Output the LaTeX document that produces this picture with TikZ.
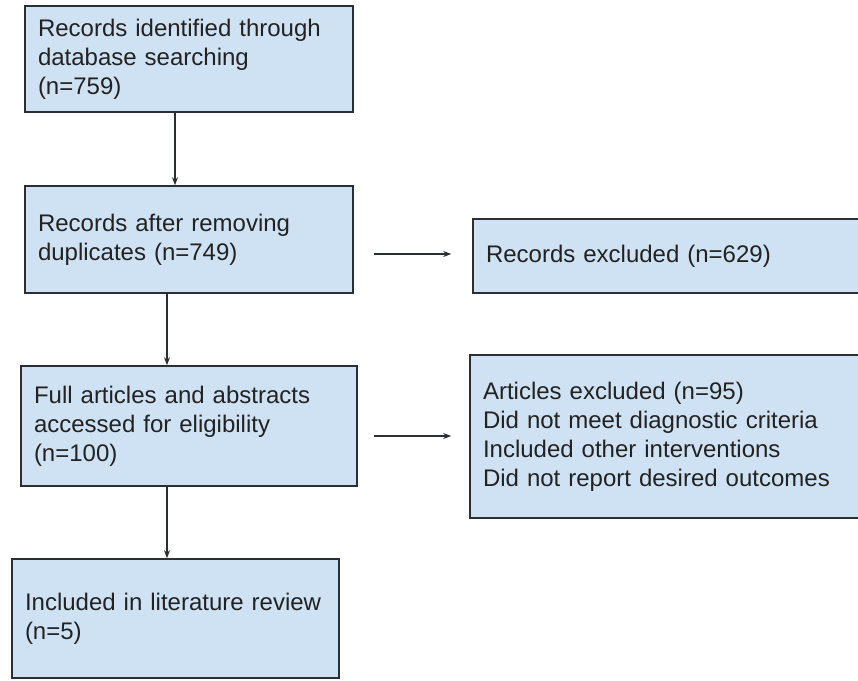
\documentclass[tikz,border=0pt]{standalone}
\usepackage{fontspec}
\setmainfont{Liberation Sans}
\usetikzlibrary{arrows.meta,calc}
\definecolor{boxfill}{HTML}{CFE2F3}
\definecolor{boxline}{HTML}{2B2F33}
\definecolor{txt}{HTML}{222222}
\begin{document}
\begin{tikzpicture}[x=1pt,y=-1pt,
  box/.style={draw=boxline,line width=1.6pt,fill=boxfill,rectangle,
    inner xsep=13pt,inner ysep=0pt,align=left,text=txt,
    font=\fontsize{24}{29}\selectfont},
  arr/.style={draw=boxline,line width=1.2pt,-{Stealth[length=8pt,width=6pt]}}]
\useasboundingbox (0,0) rectangle (858,680);
\begin{scope}
\clip (0,0) rectangle (858,680);
\node[box,minimum width=328pt,minimum height=106pt,text width=302pt] (b1) at (189,59)
  {Records identified through\\database searching\\(n=759)};
\node[box,minimum width=328pt,minimum height=107pt,text width=302pt] (b2) at (189,239.5)
  {Records after removing\\duplicates (n=749)};
\node[box,minimum width=397pt,minimum height=74pt,text width=371pt] (b3) at (671.5,256)
  {Records excluded (n=629)};
\node[box,minimum width=336pt,minimum height=120pt,text width=310pt] (b4) at (189,426)
  {Full articles and abstracts\\accessed for eligibility\\(n=100)};
\node[box,minimum width=400pt,minimum height=163pt,text width=374pt] (b5) at (670,436.5)
  {Articles excluded (n=95)\\Did not meet diagnostic criteria\\Included other interventions\\Did not report desired outcomes};
\node[box,minimum width=327pt,minimum height=119pt,text width=301pt] (b6) at (175.5,618.5)
  {Included in literature review\\(n=5)};
\end{scope}
\draw[arr] ([xshift=-14pt]b1.south) -- ([xshift=-14pt]b2.north);
\draw[arr] ([xshift=-22pt]b2.south) -- ([xshift=-22pt]b4.north);
\draw[arr] ([xshift=-22pt]b4.south) -- ([xshift=-8.5pt]b6.north);
\coordinate (s2) at ([shift={(20pt,-14.5pt)}]b2.east);
\coordinate (e2) at ([xshift=-21pt]b3.west);
\draw[arr] (s2) -- (s2 -| e2);
\coordinate (s4) at ([shift={(16pt,-10pt)}]b4.east);
\coordinate (e4) at ([xshift=-18pt]b5.west);
\draw[arr] (s4) -- (s4 -| e4);
\end{tikzpicture}
\end{document}
